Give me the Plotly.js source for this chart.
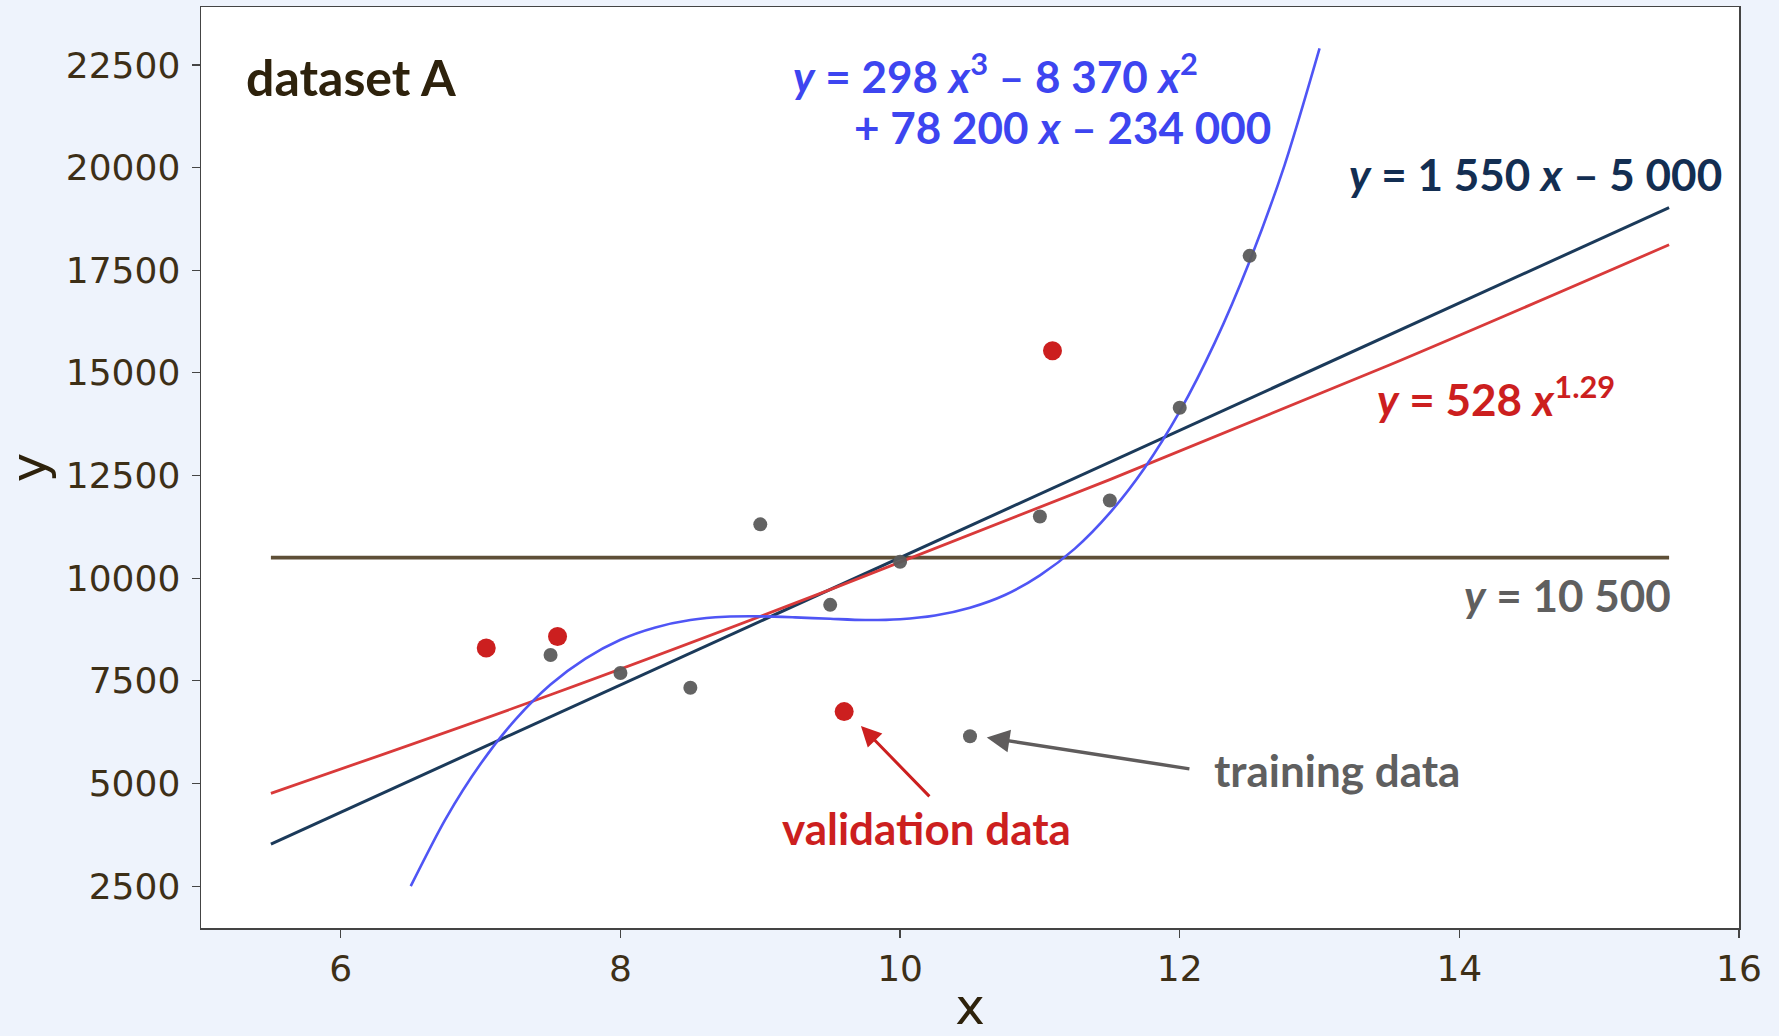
<!DOCTYPE html>
<html>
<head>
<meta charset="utf-8">
<script src="https://cdn.plot.ly/plotly-3.0.1.min.js"></script>
<style>
  html, body { margin: 0; padding: 0; background: #eef3fc; }
  #chart { width: 1779px; height: 1036px; }
</style>
</head>
<body>
<div id="chart"></div>
<script>
// Training data (gray points)
const trainX = [7.5, 8, 8.5, 9, 9.5, 10, 10.5, 11, 11.5, 12, 12.5];
const trainY = [8130, 7690, 7330, 11310, 9350, 10400, 6150, 11500, 11890, 14150, 17850];

// Validation data (red points)
const validX = [7.04, 7.55, 9.6, 11.09];
const validY = [8300, 8580, 6750, 15540];

// Constant model y = 10 500
const constX = [5.5, 15.5];
const constY = [10500, 10500];

// Linear model y = 1 550 x – 5 000
const linX = [5.5, 15.5];
const linY = [3525, 19025];

// Power model y = 528 x^1.29
const powX = [5.5, 7.5, 9.5, 11.5, 13.5, 15.5];
const powY = [4760, 7160, 9720, 12400, 15190, 18120];

// Cubic model
const cubX = [6.5, 6.75, 7, 7.25, 7.5, 7.75, 8, 8.25, 8.5, 8.75, 9, 9.25, 9.5, 9.75, 10,
              10.25, 10.5, 10.75, 11, 11.25, 11.5, 11.75, 12, 12.25, 12.5, 12.75, 13];
const cubY = [2500, 4140, 5480, 6560, 7410, 8040, 8500, 8800, 8980, 9060, 9070, 9045, 9010, 8980, 9000,
              9090, 9280, 9590, 10070, 10720, 11590, 12690, 14060, 15730, 17720, 20060, 22900];

const xTicks = [6, 8, 10, 12, 14, 16];
const yTicks = [2500, 5000, 7500, 10000, 12500, 15000, 17500, 20000, 22500];

const annFont = "Lato, 'Open Sans', sans-serif";
const annSize = 44;

const traces = [
  { x: constX, y: constY, mode: 'lines', line: { color: '#5e4f37', width: 3.8 }, hoverinfo: 'skip' },
  { x: linX, y: linY, mode: 'lines', line: { color: '#1b3a5a', width: 3 }, hoverinfo: 'skip' },
  { x: powX, y: powY, mode: 'lines', line: { color: '#d93a3a', width: 2.8, shape: 'spline' }, hoverinfo: 'skip' },
  { x: cubX, y: cubY, mode: 'lines', line: { color: '#4f55f5', width: 2.6, shape: 'spline', smoothing: 0.8 }, hoverinfo: 'skip' },
  { x: trainX, y: trainY, mode: 'markers', marker: { color: '#5b5b5b', size: 14, opacity: 0.95 }, hoverinfo: 'skip' },
  { x: validX, y: validY, mode: 'markers', marker: { color: '#cc1f1f', size: 19 }, hoverinfo: 'skip' }
];

const annotations = [
  { text: '<b>dataset A</b>', x: 0.028, y: 0.924, xref: 'paper', yref: 'paper', xanchor: 'left', yanchor: 'middle', showarrow: false,
    font: { family: annFont, size: 50, color: '#2e220c' } },
  { text: '<b><i>y</i> = 298 <i>x</i><sup>3</sup> – 8 370 <i>x</i><sup>2</sup></b>', x: 9.22, y: 22300, xanchor: 'left', yanchor: 'middle', showarrow: false,
    font: { family: annFont, size: annSize, color: '#3d45f0' } },
  { text: '<b>+ 78 200 <i>x</i> – 234 000</b>', x: 12.67, y: 20980, xanchor: 'right', yanchor: 'middle', showarrow: false,
    font: { family: annFont, size: annSize, color: '#3d45f0' } },
  { text: '<b><i>y</i> = 1 550 <i>x</i> – 5 000</b>', x: 15.89, y: 19850, xanchor: 'right', yanchor: 'middle', showarrow: false,
    font: { family: annFont, size: annSize, color: '#132e52' } },
  { text: '<b><i>y</i> = 528 <i>x</i><sup>1.29</sup></b>', x: 15.13, y: 14420, xanchor: 'right', yanchor: 'middle', showarrow: false,
    font: { family: annFont, size: annSize, color: '#cc1f1f' } },
  { text: '<b><i>y</i> = 10 500</b>', x: 15.53, y: 9580, xanchor: 'right', yanchor: 'middle', showarrow: false,
    font: { family: annFont, size: annSize, color: '#5f5f5f' } },
  { text: '<b>training data</b>', x: 12.23, y: 5320, xanchor: 'left', yanchor: 'middle', showarrow: false,
    font: { family: annFont, size: annSize, color: '#5f5f5f' } },
  { text: '<b>validation data</b>', x: 10.19, y: 3910, xanchor: 'center', yanchor: 'middle', showarrow: false,
    font: { family: annFont, size: annSize, color: '#cc1f1f' } },
  // arrows
  { x: 9.72, y: 6400, ax: 10.22, ay: 4650, axref: 'x', ayref: 'y', xref: 'x', yref: 'y', text: '', showarrow: true,
    arrowhead: 2, arrowsize: 1.35, arrowwidth: 3, arrowcolor: '#cc1f1f' },
  { x: 10.62, y: 6120, ax: 12.08, ay: 5350, axref: 'x', ayref: 'y', xref: 'x', yref: 'y', text: '', showarrow: true,
    arrowhead: 2, arrowsize: 1.3, arrowwidth: 3.5, arrowcolor: '#5f5c5c' }
];

const tickFont = { family: "'DejaVu Sans', sans-serif", size: 36, color: '#3d2f17' };

const layout = {
  width: 1779,
  height: 1036,
  paper_bgcolor: '#eef3fc',
  plot_bgcolor: '#ffffff',
  showlegend: false,
  margin: { l: 201, r: 40, t: 7, b: 108 },
  xaxis: {
    range: [5, 16],
    tickvals: xTicks,
    ticktext: xTicks.map(String),
    showgrid: false, zeroline: false,
    showline: true, linecolor: '#444444', linewidth: 1.5, mirror: true,
    ticks: 'outside', ticklen: 8, tickwidth: 1.2, tickcolor: '#444444',
    tickfont: tickFont,
    title: { text: 'x', font: { family: "'DejaVu Sans', sans-serif", size: 50, color: '#2e220c' }, standoff: 10 }
  },
  yaxis: {
    range: [1480, 23910],
    tickvals: yTicks,
    ticktext: yTicks.map(String),
    showgrid: false, zeroline: false,
    showline: true, linecolor: '#444444', linewidth: 1.5, mirror: true,
    ticks: 'outside', ticklen: 8, tickwidth: 1.2, tickcolor: '#444444',
    ticklabelstandoff: 4,
    tickfont: tickFont,
    title: { text: 'y', font: { family: "'DejaVu Sans', sans-serif", size: 50, color: '#2e220c' }, standoff: 6 }
  },
  annotations: annotations
};

Plotly.newPlot('chart', traces, layout, { displayModeBar: false, staticPlot: true });
</script>
</body>
</html>
